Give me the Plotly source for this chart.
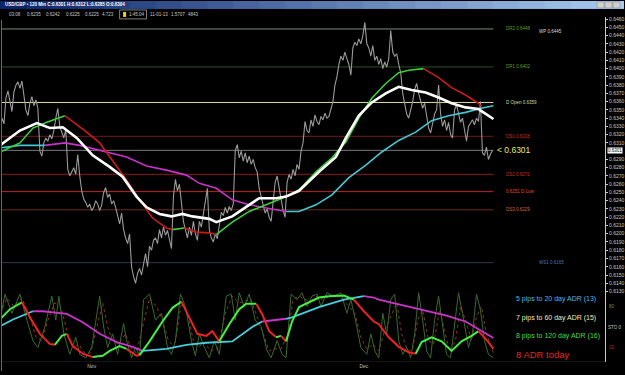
import plotly.graph_objects as go

# ---------------- DATA ----------------
# 120-min closes, one value every 2 bars (bar index = chart position)
price_close = [
    0.6330, 0.6340, 0.6333, 0.6365, 0.6373, 0.6360, 0.6348, 0.6372, 0.6380, 0.6384,
    0.6376, 0.6385, 0.6366, 0.6350, 0.6343, 0.6358, 0.6366, 0.6355, 0.6362, 0.6352,
    0.6300, 0.6294, 0.6310, 0.6316, 0.6312, 0.6320, 0.6315, 0.6325, 0.6340, 0.6352,
    0.6330, 0.6322, 0.6316, 0.6326, 0.6278, 0.6270, 0.6276, 0.6280, 0.6272, 0.6296,
    0.6270, 0.6252, 0.6242, 0.6238, 0.6232, 0.6236, 0.6228, 0.6232, 0.6240, 0.6236,
    0.6228, 0.6235, 0.6250, 0.6256, 0.6244, 0.6248, 0.6236, 0.6240, 0.6232, 0.6222,
    0.6212, 0.6225, 0.6205, 0.6195, 0.6188, 0.6200, 0.6160, 0.6148, 0.6140, 0.6152,
    0.6158, 0.6150, 0.6165, 0.6176, 0.6160, 0.6185, 0.6180, 0.6192, 0.6195, 0.6188,
    0.6205, 0.6195, 0.6208, 0.6198, 0.6204, 0.6192, 0.6182, 0.6245, 0.6266, 0.6252,
    0.6260, 0.6238, 0.6215, 0.6205, 0.6195, 0.6208, 0.6198, 0.6215, 0.6200, 0.6192,
    0.6215, 0.6208, 0.6222, 0.6240, 0.6255, 0.6205, 0.6195, 0.6190, 0.6200, 0.6194,
    0.6212, 0.6226, 0.6222, 0.6232, 0.6225, 0.6233, 0.6228, 0.6236, 0.6300, 0.6308,
    0.6292, 0.6300, 0.6288, 0.6298, 0.6286, 0.6294, 0.6284, 0.6290, 0.6280, 0.6275,
    0.6255, 0.6245, 0.6232, 0.6225, 0.6230, 0.6220, 0.6215, 0.6240, 0.6262, 0.6270,
    0.6255, 0.6238, 0.6228, 0.6220, 0.6262, 0.6272, 0.6266, 0.6278, 0.6270, 0.6284,
    0.6278, 0.6300, 0.6310, 0.6336, 0.6325, 0.6322, 0.6338, 0.6330, 0.6344, 0.6336,
    0.6332, 0.6342, 0.6338, 0.6346, 0.6340, 0.6342, 0.6350, 0.6360, 0.6380, 0.6390,
    0.6405, 0.6415, 0.6410, 0.6420, 0.6412, 0.6405, 0.6392, 0.6425, 0.6432, 0.6428,
    0.6436, 0.6430, 0.6440, 0.6456, 0.6430, 0.6425, 0.6415, 0.6428, 0.6410, 0.6415,
    0.6405, 0.6412, 0.6400, 0.6408, 0.6402, 0.6412, 0.6446, 0.6420, 0.6415, 0.6418,
    0.6405, 0.6395, 0.6370, 0.6358, 0.6345, 0.6340, 0.6350, 0.6360, 0.6375, 0.6382,
    0.6370, 0.6360, 0.6352, 0.6358, 0.6340, 0.6328, 0.6322, 0.6336, 0.6345, 0.6350,
    0.6380, 0.6345, 0.6330, 0.6338, 0.6325, 0.6335, 0.6320, 0.6316, 0.6350, 0.6356,
    0.6345, 0.6335, 0.6340, 0.6325, 0.6312, 0.6330, 0.6334, 0.6338, 0.6332, 0.6340,
    0.6336, 0.6360, 0.6298, 0.6295, 0.6305, 0.6290, 0.6296, 0.6301,
]
price_bar = list(range(0, 2 * len(price_close), 2))

# price-axis tick labels (0.6300 is covered by the last-price box)
price_ticks = [0.6130, 0.6140, 0.6150, 0.6160, 0.6170, 0.6180, 0.6190, 0.6200, 0.6210, 0.6220,
               0.6230, 0.6240, 0.6250, 0.6260, 0.6270, 0.6280, 0.6290, 0.6310, 0.6320, 0.6330,
               0.6340, 0.6350, 0.6360, 0.6370, 0.6380, 0.6390, 0.6400, 0.6410, 0.6420, 0.6430,
               0.6440, 0.6450, 0.6460]

# White moving average
white_ma_bar = [0, 20, 37, 50, 63, 77, 93, 110, 123, 137, 147, 160, 172, 183, 193, 210, 217,
                233, 250, 260, 277, 287, 300, 320, 337, 347, 360, 373, 387, 400, 413, 427,
                440, 453, 467, 480, 495]
white_ma_val = [0.6307, 0.6325, 0.6334, 0.6328, 0.6329, 0.6316, 0.6295, 0.6281, 0.6269, 0.6245,
                0.6232, 0.6224, 0.6221, 0.6224, 0.6221, 0.6218, 0.6214, 0.6221, 0.6235, 0.6243,
                0.6243, 0.6245, 0.6252, 0.6275, 0.6293, 0.6316, 0.6343, 0.6359, 0.6370, 0.6378,
                0.6374, 0.6371, 0.6365, 0.6358, 0.6353, 0.6351, 0.6339]

# Medium MA, coloured by slope (u = rising/green, d = falling/red)
mid_ma_bar = [0, 20, 33, 47, 65, 87, 100, 113, 127, 140, 153, 167, 173, 185, 197, 210, 217,
              233, 250, 267, 283, 300, 317, 333, 347, 360, 373, 387, 400, 410, 425, 440, 453,
              467, 480, 483]
mid_ma_val = [0.6299, 0.6310, 0.6328, 0.6335, 0.6343, 0.6323, 0.6310, 0.6289, 0.6265, 0.6241,
              0.6219, 0.6207, 0.6205, 0.6207, 0.6202, 0.6201, 0.6199, 0.6214, 0.6227, 0.6235,
              0.6243, 0.6253, 0.6275, 0.6292, 0.6311, 0.6340, 0.6364, 0.6382, 0.6395, 0.6398,
              0.6400, 0.6389, 0.6377, 0.6368, 0.6358, 0.6354]
mid_ma_trend = ["u", "u", "u", "u", "d", "d", "d", "d", "d", "d", "d", "d", "u", "d", "d", "d",
                "u", "u", "u", "u", "u", "u", "u", "u", "u", "u", "u", "u", "u", "u", "d", "d",
                "d", "d", "d", "d"]

# Slow MA, coloured by slope (u = cyan, d = magenta)
slow_ma_bar = [0, 20, 45, 65, 80, 100, 127, 147, 167, 187, 200, 217, 233, 250, 267, 287, 300,
               317, 333, 350, 367, 383, 400, 417, 433, 450, 467, 483, 495]
slow_ma_val = [0.6304, 0.6307, 0.6307, 0.6310, 0.6307, 0.6301, 0.6293, 0.6282, 0.6277, 0.6271,
               0.6261, 0.6255, 0.6241, 0.6235, 0.6231, 0.6227, 0.6227, 0.6235, 0.6247, 0.6268,
               0.6283, 0.6299, 0.6313, 0.6323, 0.6337, 0.6343, 0.6347, 0.6352, 0.6355]
slow_ma_trend = ["u", "u", "d", "d", "d", "d", "d", "d", "d", "d", "d", "d", "d", "d", "d", "u",
                 "u", "u", "u", "u", "u", "u", "u", "u", "u", "u", "u", "u", "u"]

# Pivot levels
pivot_name = ["DR2 0.6448", "DR1 0.6402", "D Open 0.6359", "DS1 0.6318", "DS2 0.6272",
              "0.6251 D Low", "DS3 0.6229", "WS1 0.6165"]
pivot_level = [0.6448, 0.6402, 0.6359, 0.6318, 0.6272, 0.6251, 0.6229, 0.6165]
weekly_pivot_name = "WP 0.6445"
weekly_pivot_level = 0.6445
last_price = 0.6301

# Oscillator panel
osc_bar = [0, 10, 22, 30, 40, 50, 55, 62, 67, 73, 83, 93, 103, 110, 120, 127, 137, 140, 150,
           163, 173, 182, 190, 198, 207, 213, 220, 230, 240, 247, 257, 263, 270, 277, 282, 287,
           293, 300, 310, 320, 330, 345, 355, 365, 375, 380, 390, 400, 410, 417, 423, 433, 443,
           453, 463, 473, 480, 490, 495]
osc_val = [61, 76, 86, 64, 40, 25, 24, 37, 40, 22, 11, 6, 8, 15, 22, 18, 8, 9, 29,
           58, 78, 87, 64, 40, 37, 44, 29, 54, 76, 84, 84, 69, 44, 35, 37, 29,
           58, 79, 86, 93, 95, 96, 90, 73, 58, 54, 35, 21, 13, 11, 28, 35, 29,
           15, 29, 37, 44, 28, 18]
osc_trend = ["u", "u", "d", "d", "d", "d", "u", "u", "d", "d", "d", "u", "u", "u", "u", "d", "d",
             "u", "u", "u", "u", "d", "d", "d", "d", "d", "u", "u", "u", "u", "d", "d", "d", "u",
             "d", "u", "u", "u", "u", "u", "u", "u", "d", "d", "d", "d", "d", "d", "d", "u", "u",
             "u", "u", "u", "u", "u", "d", "d", "d"]

osc_slow_bar = [0, 13, 33, 43, 67, 83, 100, 117, 133, 143, 167, 187, 207, 233, 253, 263, 287,
                293, 320, 345, 365, 375, 380, 420, 447, 467, 483, 495]
osc_slow_val = [51, 61, 73, 73, 69, 57, 40, 28, 21, 15, 18, 24, 27, 29, 50, 58, 62,
                64, 79, 90, 95, 93, 90, 76, 67, 58, 44, 34]
osc_slow_trend = ["u", "u", "d", "d", "d", "d", "d", "d", "d", "u", "u", "u", "u", "u", "u", "d",
                  "u", "u", "u", "u", "d", "d", "d", "d", "d", "d", "d", "d"]

stoch_k_bar = [0, 5, 12, 20, 27, 33, 38, 45, 52, 56, 59, 64, 70, 76, 80, 86, 92, 97, 100, 104,
               108, 113, 118, 124, 127, 132, 136, 140, 144, 150, 156, 162, 168, 172, 176, 181,
               186, 192, 196, 200, 205, 210, 215, 220, 227, 232, 236, 240, 245, 250, 256, 262,
               268, 272, 278, 283, 287, 292, 298, 303, 308, 313, 318, 322, 328, 335, 342, 348,
               352, 358, 362, 368, 372, 376, 380, 384, 388, 392, 396, 400, 404, 408, 412, 416,
               420, 424, 428, 432, 436, 440, 444, 448, 452, 456, 460, 464, 470, 474, 478, 482,
               486, 490, 495]
stoch_k_val = [60, 98, 70, 98, 60, 30, 20, 50, 95, 60, 95, 40, 10, 35, 10, 5, 20, 70, 95, 50,
               20, 40, 10, 55, 30, 5, 20, 8, 90, 98, 60, 70, 20, 10, 30, 98,
               80, 30, 8, 40, 20, 5, 30, 10, 95, 98, 60, 100, 80, 98, 60, 50,
               15, 5, 30, 10, 5, 98, 90, 100, 80, 95, 98, 80, 100, 95, 100, 70,
               90, 50, 20, 10, 40, 15, 5, 70, 40, 90, 98, 30, 10, 20, 5, 40,
               100, 60, 15, 5, 60, 95, 50, 10, 5, 50, 100, 70, 20, 40, 98, 75,
               30, 10, 5]
stoch_d_bar = [0, 7, 14, 22, 30, 36, 42, 48, 55, 61, 67, 73, 79, 85, 91, 98, 103, 108, 113,
               119, 126, 131, 137, 143, 150, 157, 163, 169, 175, 182, 188, 194, 199, 205, 211,
               218, 226, 233, 240, 246, 252, 258, 264, 270, 276, 282, 289, 294, 300, 306, 312,
               318, 324, 330, 337, 344, 350, 356, 362, 368, 374, 380, 386, 392, 398, 403, 409,
               414, 419, 424, 430, 435, 441, 446, 451, 457, 462, 467, 473, 478, 483, 488, 495]
stoch_d_val = [70, 92, 80, 92, 65, 35, 30, 60, 85, 80, 45, 20, 25, 12, 12, 55, 85, 50, 30,
               25, 40, 20, 12, 50, 92, 80, 60, 30, 20, 85, 70, 30, 20, 28, 15,
               18, 70, 95, 85, 88, 90, 65, 40, 15, 18, 18, 40, 90, 95, 90, 88,
               95, 90, 95, 97, 90, 80, 70, 35, 18, 25, 15, 45, 65, 85, 40, 15,
               18, 60, 75, 30, 25, 75, 45, 15, 30, 80, 60, 30, 65, 80, 40, 12]

month_bar = [92, 365]
month_label = ["Nov", "Dec"]

adr_lines = ["5 pips to 20 day ADR (13)", "7 pips to 60 day ADR (15)",
             "8 pips to 120 day ADR (16)", "8 ADR today"]

# ---------------- FIGURE ----------------
W, H = 625, 375
def px(x):
    return x / W
def py(y):
    return 1 - y / H

fig = go.Figure()

def add_line(xs, ys, color, width, xa="x", ya="y", dash=None):
    fig.add_trace(go.Scatter(x=xs, y=ys, mode="lines", xaxis=xa, yaxis=ya,
                             line=dict(color=color, width=width, dash=dash),
                             hoverinfo="skip", showlegend=False))

def add_segments(xs, ys, trends, colors, width, xa="x", ya="y"):
    start = 0
    n = len(xs)
    for i in range(1, n):
        if i == n - 1 or trends[i] != trends[start]:
            add_line(xs[start:i + 1], ys[start:i + 1], colors[trends[start]], width, xa, ya)
            start = i

# main panel
add_line(price_bar, price_close, "#9a9a9a", 1.1)
add_segments(slow_ma_bar, slow_ma_val, slow_ma_trend, {"u": "#45c8d2", "d": "#c832c8"}, 1.6)
add_segments(mid_ma_bar, mid_ma_val, mid_ma_trend, {"u": "#3cd03c", "d": "#cc1a1a"}, 1.6)
add_line(white_ma_bar, white_ma_val, "#ffffff", 2.6)

# oscillator panel
add_line(stoch_d_bar, stoch_d_val, "#8a3a1e", 1, "x2", "y2", dash="dot")
add_line(stoch_k_bar, stoch_k_val, "#3a6a2a", 1, "x2", "y2")
add_segments(osc_slow_bar, osc_slow_val, osc_slow_trend, {"u": "#45d0dc", "d": "#cc33cc"}, 1.8, "x2", "y2")
add_segments(osc_bar, osc_val, osc_trend, {"u": "#44ee44", "d": "#ee2222"}, 2, "x2", "y2")

shapes = []
pivot_color = ["#7c8a7c", "#254f25", "#dede9c", "#6e1c1c", "#8e1c1c", "#c42222", "#6a2c1c", "#2b3b4c"]
for lvl, col in zip(pivot_level, pivot_color):
    shapes.append(dict(type="line", xref="x", yref="y", x0=0, x1=495, y0=lvl, y1=lvl,
                       line=dict(color=col, width=1), layer="below"))
shapes.append(dict(type="line", xref="x", yref="y", x0=0, x1=495, y0=last_price, y1=last_price,
                   line=dict(color="#7a7a7a", width=1), layer="below"))

# oscillator levels
osc_levels = [(100, "#8a8a8a", "solid"), (80, "#7a7a40", "dot"), (50, "#6f8484", "solid"),
              (20, "#8e2020", "dot"), (0, "#8a8a8a", "solid")]
for lvl, col, dash in osc_levels:
    shapes.append(dict(type="line", xref="paper", yref="y2", x0=px(2), x1=px(607), y0=lvl, y1=lvl,
                       line=dict(color=col, width=1, dash=dash), layer="below"))

# title bar gradient
nseg = 24
for i in range(nseg):
    t = i / (nseg - 1)
    r = int(10 + t * (166 - 10)); g = int(36 + t * (202 - 36)); b = int(106 + t * (240 - 106))
    shapes.append(dict(type="rect", xref="paper", yref="paper", x0=px(W * i / nseg), x1=px(W * (i + 1) / nseg + 1),
                       y0=py(8), y1=py(0), fillcolor=f"rgb({r},{g},{b})", line=dict(width=0)))
# window buttons
for bx in [599, 607, 615]:
    shapes.append(dict(type="rect", xref="paper", yref="paper", x0=px(bx), x1=px(bx + 7), y0=py(7), y1=py(1),
                       fillcolor="#d4d0c8", line=dict(color="#808080", width=0.5)))
# toolbar time box
shapes.append(dict(type="rect", xref="paper", yref="paper", x0=px(120), x1=px(147), y0=py(18), y1=py(9),
                   line=dict(color="#a0a0a0", width=0.8)))
shapes.append(dict(type="rect", xref="paper", yref="paper", x0=px(123.5), x1=px(126.5), y0=py(16), y1=py(11),
                   fillcolor="#e8d040", line=dict(width=0)))
# left border
shapes.append(dict(type="line", xref="paper", yref="paper", x0=px(1.5), x1=px(1.5), y0=py(372), y1=py(19),
                   line=dict(color="#6a6a6a", width=1)))

annotations = []
def note(x, y, text, color, size=5, anchor="left", bg=None, xref="paper", yref="paper"):
    annotations.append(dict(x=x, y=y, xref=xref, yref=yref, text=text, showarrow=False,
                            xanchor=anchor, yanchor="middle",
                            font=dict(color=color, size=size, family="Arial"),
                            bgcolor=bg, borderpad=0))

note(px(4), py(4), "<b>USD/GBP • 120 Min C:0.6301 H:0.6312 L:0.6285 O:0.6304</b>", "#ffffff", 4.5)
toolbar = [(8, "03:08"), (26, "0.6235"), (45, "0.6242"), (65, "0.6225"), (84, "0.6225"),
           (101, "4.723"), (128, "1:45:04"), (149, "11-01-13"), (171, "1.5707"), (188, "4843")]
for tx, tt in toolbar:
    note(px(tx), py(13.5), tt, "#c8c8c8", 4.5)

pivot_label_color = ["#5e9e40", "#5e9e40", "#d8d894", "#c43030", "#c43030", "#e04a2a", "#d0683a", "#4a78a8"]
for i, (name, lvl, col) in enumerate(zip(pivot_name, pivot_level, pivot_label_color)):
    xpos = 540 if i == len(pivot_name) - 1 else 507
    note(xpos, lvl, name, col, 4.5, xref="x", yref="y")
note(540, weekly_pivot_level, weekly_pivot_name, "#dcdcdc", 4.5, xref="x", yref="y")
note(498, last_price, "&lt; 0.6301", "#e8e870", 8.5, xref="x", yref="y")
note(px(608.5), last_price, "0.6301", "#000000", 4.5, bg="#ffffff", yref="y")

adr_colors = ["#4fb8e4", "#f2eab4", "#44dd44", "#e02626"]
adr_y = [300, 318.5, 337, 355]
adr_size = [7, 7, 7, 9.5]
for t, c, yy, s in zip(adr_lines, adr_colors, adr_y, adr_size):
    note(px(517), py(yy), t, c, s)

note(px(610), py(307), "80", "#8a8a40", 4.5)
note(px(609), py(328), "STO 0", "#c8c8c8", 4.5)
note(px(610), py(348), "20", "#b03030", 4.5)

fig.update_layout(
    width=W, height=H, margin=dict(l=0, r=0, t=0, b=0),
    paper_bgcolor="#000000", plot_bgcolor="#000000", showlegend=False,
    shapes=shapes, annotations=annotations,
    xaxis=dict(domain=[px(2), px(607)], range=[2, 607], anchor="y", showticklabels=False,
               showgrid=False, zeroline=False, showline=False),
    yaxis=dict(domain=[py(294), py(16)], range=[0.61277, 0.64626], side="right", anchor="x",
               tickvals=price_ticks, tickformat=".4f", showgrid=False, zeroline=False,
               showline=True, linecolor="#c8c8c8", linewidth=1, ticks="outside", ticklen=2,
               tickcolor="#c8c8c8", tickfont=dict(size=5, color="#c8c8c8", family="Arial")),
    xaxis2=dict(domain=[px(2), px(607)], matches="x", anchor="y2", tickvals=month_bar,
                ticktext=month_label, showgrid=False, zeroline=False, showline=False, ticks="",
                tickfont=dict(size=5, color="#c0c0c0", family="Arial")),
    yaxis2=dict(domain=[py(362.5), py(290)], range=[-0.5, 104.8], side="right", anchor="x2",
                showticklabels=False, showgrid=False, zeroline=False, showline=True,
                linecolor="#c8c8c8", linewidth=1),
)

fig.write_html("out.html")
